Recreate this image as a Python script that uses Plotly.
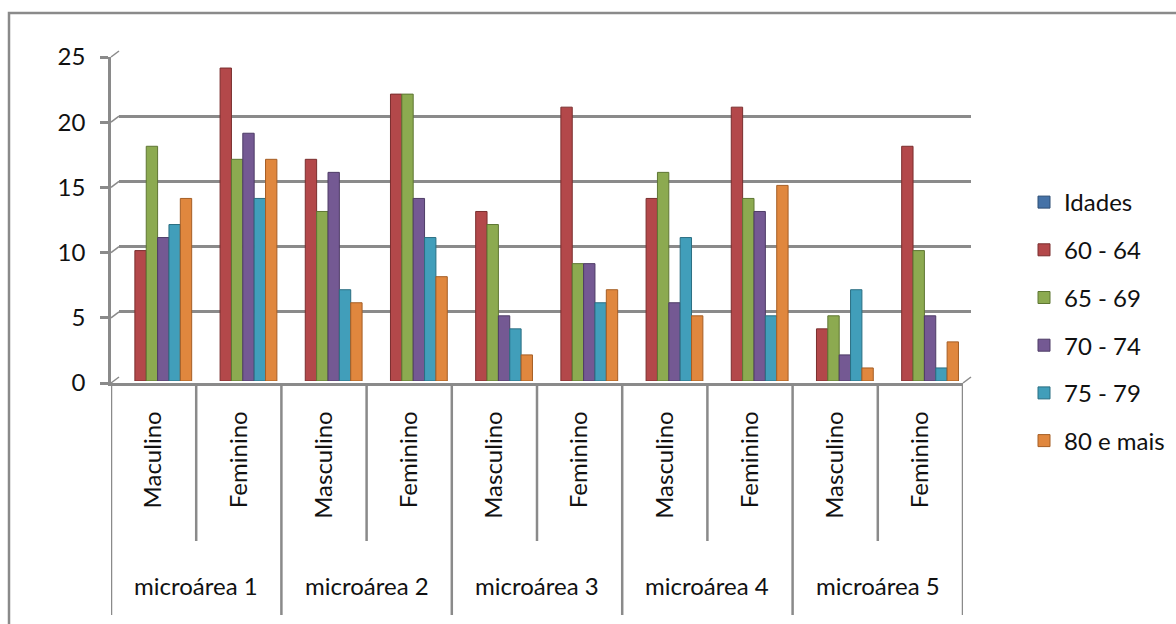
import plotly.graph_objects as go

W, H = 1176, 624

# ---- data -------------------------------------------------------------
groups = ["microárea 1", "microárea 2", "microárea 3", "microárea 4", "microárea 5"]
sexes = ["Maculino", "Feminino", "Masculino", "Feminino", "Masculino",
         "Feminino", "Masculino", "Feminino", "Masculino", "Feminino"]

series_names = ["Idades", "60 - 64", "65 - 69", "70 - 74", "75 - 79", "80 e mais"]
idades = [None] * 10
age_60_64 = [10, 24, 17, 22, 13, 21, 14, 21, 4, 18]
age_65_69 = [18, 17, 13, 22, 12, 9, 16, 14, 5, 10]
age_70_74 = [11, 19, 16, 14, 5, 9, 6, 13, 2, 5]
age_75_79 = [12, 14, 7, 11, 4, 6, 11, 5, 7, 1]
age_80_plus = [14, 17, 6, 8, 2, 7, 5, 15, 1, 3]

y_ticks = [0, 5, 10, 15, 20, 25]

# ---- styling ----------------------------------------------------------
fills = ["#4572A7", "#B3484A", "#8CAA50", "#745993", "#419EBA", "#E0873E"]
edges = ["#2E4E75", "#7A2E2E", "#5E7633", "#4E3C66", "#2B6E82", "#A55E25"]
GRAY = "#8A8A8A"
FONT = "Lato, 'Open Sans', sans-serif"
TXT = "#111111"

# pixel geometry: front plane, back wall and the mid-depth plane of the bars
FX0, FX1 = 111, 963
FY0, FY25 = 383, 57
DX, DY = 8, -6          # back wall offset
BX, BY = 4, -2          # bar plane offset


def px(x):
    return x / W


def py(y):
    return 1 - y / H


fig = go.Figure()

# back wall gridlines (first subplot, so they stay beneath everything)
fig.add_trace(go.Scatter(x=[None], y=[None], xaxis="x", yaxis="y",
                         showlegend=False, hoverinfo="skip"))
# front plane: value axis, floor edge and category labels
fig.add_trace(go.Scatter(x=[None], y=[None], xaxis="x2", yaxis="y2",
                         showlegend=False, hoverinfo="skip"))

xs = list(range(len(sexes)))
all_series = [idades, age_60_64, age_65_69, age_70_74, age_75_79, age_80_plus]
for name, vals, fc, ec in zip(series_names, all_series, fills, edges):
    fig.add_trace(go.Bar(
        x=xs, y=vals, name=name, legendgroup=name,
        xaxis="x3", yaxis="y3",
        marker=dict(color=fc, line=dict(color=ec, width=1)),
    ))

shapes = []
# diagonal connectors from the front axis to the back wall
y_dom = (py(FY0), py(FY25))
for v in y_ticks:
    yp = y_dom[0] + v / 25 * (y_dom[1] - y_dom[0])
    shapes.append(dict(type="line", xref="paper", yref="paper",
                       x0=px(FX0), y0=yp, x1=px(FX0 + DX), y1=yp - DY / H,
                       line=dict(color=GRAY, width=1.5)))
# right end of the floor
shapes.append(dict(type="line", xref="paper", yref="paper",
                   x0=px(FX1), y0=py(FY0), x1=px(FX1 + DX), y1=py(FY0 + DY),
                   line=dict(color=GRAY, width=1.5)))

# category table lines below the floor
for k in range(len(sexes) + 1):
    bottom = 615 if k % 2 == 0 else 541
    shapes.append(dict(type="line", xref="x2", yref="paper",
                       x0=k - 0.5, x1=k - 0.5, y0=py(FY0), y1=py(bottom),
                       line=dict(color=GRAY, width=2.5)))

# outer chart frame
shapes.append(dict(type="rect", xref="paper", yref="paper",
                   x0=px(9), y0=py(13), x1=1.02, y1=-0.03,
                   line=dict(color=GRAY, width=2.5), fillcolor="rgba(0,0,0,0)"))

annotations = []
for g, label in enumerate(groups):
    annotations.append(dict(
        x=2 * g + 0.5, y=py(585), xref="x2", yref="paper",
        text=label, showarrow=False, xanchor="center", yanchor="middle",
        font=dict(family=FONT, size=24, color=TXT)))

hidden = dict(visible=False, fixedrange=True, automargin=False,
              showgrid=False, zeroline=False)

fig.update_layout(
    width=W, height=H,
    margin=dict(l=0, r=0, t=0, b=0, autoexpand=False),
    paper_bgcolor="white",
    plot_bgcolor="rgba(0,0,0,0)",
    barmode="group",
    bargap=0.2,
    bargroupgap=0.0,
    font=dict(family=FONT, size=24, color=TXT),
    shapes=shapes,
    annotations=annotations,
    showlegend=True,
    legend=dict(
        x=px(1024), y=py(180), xanchor="left", yanchor="top",
        font=dict(family=FONT, size=24, color=TXT),
        tracegroupgap=13.5, bgcolor="rgba(0,0,0,0)",
        itemwidth=30,
    ),
    xaxis=dict(domain=[px(FX0 + DX), px(FX1 + DX)], range=[-0.5, 9.5],
               **hidden),
    yaxis=dict(domain=[py(FY0 + DY), py(FY25 + DY)], range=[0, 25],
               tickvals=y_ticks, showgrid=True, gridcolor=GRAY, gridwidth=2.5,
               showticklabels=False, zeroline=False, showline=False, ticks="",
               automargin=False, fixedrange=True),
    xaxis2=dict(domain=[px(FX0), px(FX1)], range=[-0.5, 9.5], anchor="y2",
                tickvals=xs, ticktext=sexes, tickangle=-90,
                ticks="", ticklabelstandoff=16,
                tickfont=dict(family=FONT, size=24, color=TXT),
                showline=True, linecolor=GRAY, linewidth=2.5,
                showgrid=False, zeroline=False, automargin=False),
    yaxis2=dict(domain=[py(FY0), py(FY25)], range=[0, 25], anchor="x2",
                tickvals=y_ticks, ticks="outside", ticklen=8, tickwidth=2.5,
                tickcolor=GRAY, ticklabelstandoff=10,
                tickfont=dict(family=FONT, size=24, color=TXT),
                showline=True, linecolor=GRAY, linewidth=2.5,
                showgrid=False, zeroline=False, automargin=False),
    xaxis3=dict(domain=[px(FX0 + BX), px(FX1 + BX)], range=[-0.5, 9.5],
                anchor="y3", **hidden),
    yaxis3=dict(domain=[py(FY0 + BY), py(FY25 + BY)], range=[0, 25],
                anchor="x3", **hidden),
)

fig.write_html("out.html")
